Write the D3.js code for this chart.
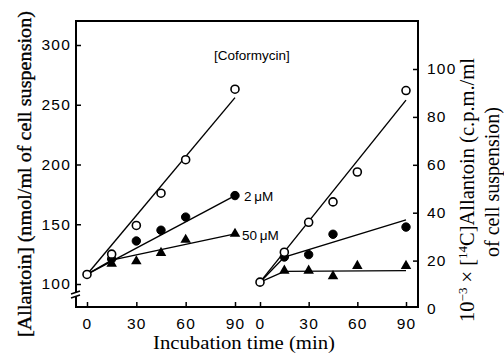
<!DOCTYPE html>
<html><head><meta charset="utf-8">
<script src="https://cdn.jsdelivr.net/npm/d3@7"></script>
<style>body{margin:0;background:#fff}svg{display:block}</style>
</head><body>
<svg id="c" width="504" height="353"></svg>
<script>
// ---- data ----
const times = [0, 15, 30, 45, 60, 90];
const xTicks = [0, 30, 60, 90];
const leftTicks = [100, 150, 200, 250, 300];
const rightTicks = [0, 20, 40, 60, 80, 100];

// Left panel: [Allantoin] nmol/ml
const leftControl = [108, 125, 149, 176, 204, 263];
const left2uM = [null, 121, 136, 145, 156, 174];
const left50uM = [null, 117, 119, 126, 137, 142];
const leftFitControl = [[0, 108], [90, 256]];
const leftFit2uM = [[0, 108], [90, 174]];
const leftFit50uM = [[0, 108], [15, 120], [90, 142]];

// Right panel: 10^-3 x [14C]Allantoin c.p.m./ml
const rightControl = [11, 23.5, 36, 44.5, 57, 91];
const right2uM = [null, 21.5, 22.5, 31, null, 34];
const right50uM = [null, 15.8, 15.8, 13.5, 17.8, 17.8];
const rightFitControl = [[0, 11], [90, 87]];
const rightFit2uM = [[0, 11], [15, 21.5], [90, 37]];
const rightFit50uM = [[0, 11], [15, 15.5], [90, 15.8]];

const svg = d3.select("#c");
const xL = d3.scaleLinear().domain([0, 90]).range([87, 235]);
const xR = d3.scaleLinear().domain([0, 90]).range([260, 406]);
const yL = d3.scaleLinear().domain([100, 300]).range([284, 45]);
const yR = d3.scaleLinear().domain([0, 100]).range([308.5, 69]);

const X0 = 76, X1 = 418, Y0 = 21, Y1 = 307;
const sans = "Liberation Sans, Arial, sans-serif";
const serif = "Liberation Serif, Times New Roman, serif";

// frame
const frame = svg.append("g").attr("stroke", "#000").attr("stroke-width", 2).attr("fill", "none");
frame.append("line").attr("x1", X0 - 1).attr("x2", X1 + 1).attr("y1", Y0).attr("y2", Y0);
frame.append("line").attr("x1", X0 - 1).attr("x2", X1 + 1).attr("y1", Y1).attr("y2", Y1);
frame.append("line").attr("x1", X1).attr("x2", X1).attr("y1", Y0).attr("y2", Y1);
frame.append("line").attr("x1", X0).attr("x2", X0).attr("y1", Y0).attr("y2", 292.5);
frame.append("line").attr("x1", X0).attr("x2", X0).attr("y1", 296.5).attr("y2", Y1);
// axis break marks
frame.append("line").attr("x1", X0 - 5).attr("x2", X0 + 4).attr("y1", 294).attr("y2", 291).attr("stroke-width", 1.5);
frame.append("line").attr("x1", X0 - 5).attr("x2", X0 + 4).attr("y1", 298).attr("y2", 295).attr("stroke-width", 1.5);

// axes (ticks inward)
function styleAxis(g) {
  g.select(".domain").remove();
  g.selectAll(".tick line").attr("stroke", "#000").attr("stroke-width", 1.5);
  g.selectAll(".tick text").attr("fill", "#000").attr("font-family", sans).attr("font-size", 15.5).attr("letter-spacing", 1.2);
}
const axL = svg.append("g").attr("transform", `translate(${X0},0)`)
  .call(d3.axisRight(yL).tickValues(leftTicks).tickSize(5).tickFormat(d3.format("d")));
styleAxis(axL);
axL.selectAll(".tick text").attr("text-anchor", "end").attr("x", -5);

const axR = svg.append("g").attr("transform", `translate(${X1},0)`)
  .call(d3.axisLeft(yR).tickValues(rightTicks).tickSize(5).tickFormat(d3.format("d")));
styleAxis(axR);
axR.selectAll(".tick text").attr("text-anchor", "start").attr("x", 9);
axR.selectAll(".tick").filter(d => d === 0).select("line").remove();

[xL, xR].forEach(sc => {
  const ax = svg.append("g").attr("transform", `translate(0,${Y1})`)
    .call(d3.axisTop(sc).tickValues(xTicks).tickSize(5).tickFormat(d3.format("d")));
  styleAxis(ax);
  ax.selectAll(".tick text").attr("y", 22);
});

// fitted lines
const lineGen = (xs, ys) => d3.line().x(d => xs(d[0])).y(d => ys(d[1]));
[[leftFitControl, xL, yL], [leftFit2uM, xL, yL], [leftFit50uM, xL, yL],
 [rightFitControl, xR, yR], [rightFit2uM, xR, yR], [rightFit50uM, xR, yR]].forEach(([pts, xs, ys]) => {
  svg.append("path").attr("d", lineGen(xs, ys)(pts)).attr("fill", "none").attr("stroke", "#000").attr("stroke-width", 1.4);
});

// markers
function pts(vals) { return times.map((t, i) => [t, vals[i]]).filter(d => d[1] != null); }
function circles(vals, xs, ys, open) {
  svg.append("g").selectAll("circle").data(pts(vals)).join("circle")
    .attr("cx", d => xs(d[0])).attr("cy", d => ys(d[1])).attr("r", open ? 4 : 4.2)
    .attr("fill", open ? "#fff" : "#000").attr("stroke", "#000").attr("stroke-width", open ? 1.6 : 1);
}
const tri = d3.symbol().type(d3.symbolTriangle).size(48);
function triangles(vals, xs, ys) {
  svg.append("g").selectAll("path").data(pts(vals)).join("path")
    .attr("d", tri).attr("transform", d => `translate(${xs(d[0])},${ys(d[1])})`).attr("fill", "#000");
}
triangles(left50uM, xL, yL);
circles(left2uM, xL, yL, false);
circles(leftControl, xL, yL, true);
triangles(right50uM, xR, yR);
circles(right2uM, xR, yR, false);
circles(rightControl, xR, yR, true);

// annotations
svg.append("text").attr("x", 214).attr("y", 60).attr("font-family", sans).attr("font-size", 13.5).text("[Coformycin]");
svg.append("text").attr("x", 244).attr("y", 201).attr("font-family", sans).attr("font-size", 13.5).text("2\u2009\u03bcM");
svg.append("text").attr("x", 242).attr("y", 240).attr("font-family", sans).attr("font-size", 13.5).text("50\u2009\u03bcM");

// axis titles
svg.append("text").attr("transform", "translate(31,174) rotate(-90)").attr("text-anchor", "middle")
  .attr("font-family", serif).attr("font-size", 19).attr("stroke", "#000").attr("stroke-width", 0.35)
  .attr("textLength", 326).attr("lengthAdjust", "spacingAndGlyphs")
  .text("[Allantoin] (nmol/ml of cell suspension)");
svg.append("text").attr("x", 244).attr("y", 349).attr("text-anchor", "middle")
  .attr("font-family", serif).attr("font-size", 19.5).attr("textLength", 182).attr("lengthAdjust", "spacingAndGlyphs")
  .text("Incubation time (min)");
const rt = svg.append("text").attr("transform", "translate(474,190) rotate(-90)").attr("text-anchor", "middle")
  .attr("font-family", serif).attr("font-size", 20.5);
rt.append("tspan").text("10");
rt.append("tspan").attr("dy", -7).attr("font-size", 13).text("\u22123");
rt.append("tspan").attr("dy", 7).text(" \u00d7 [");
rt.append("tspan").attr("dy", -7).attr("font-size", 13).text("14");
rt.append("tspan").attr("dy", 7).text("C]Allantoin (c.p.m./ml");
svg.append("text").attr("transform", "translate(499,182) rotate(-90)").attr("text-anchor", "middle")
  .attr("font-family", serif).attr("font-size", 20).text("of cell suspension)");
</script>
</body></html>
